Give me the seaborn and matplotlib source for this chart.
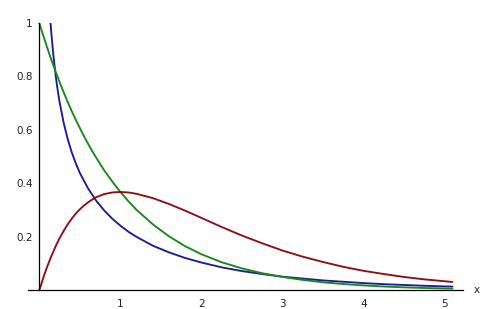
import numpy as np
import pandas as pd
import matplotlib
matplotlib.use("Agg")
import matplotlib.pyplot as plt
import seaborn as sns
from matplotlib.ticker import FixedLocator, MultipleLocator

# x grid shared by the green and red curves
x_gr = [0, 0.025, 0.05, 0.075, 0.1, 0.125, 0.15, 0.2, 0.25, 0.3, 0.35, 0.4,
        0.45, 0.5, 0.55, 0.6, 0.65, 0.7, 0.8, 0.9, 1.0, 1.1,
        1.2, 1.4, 1.6, 1.8, 2.0, 2.25, 2.5, 2.75, 3.0, 3.25, 3.5, 3.75,
        4.0, 4.25, 4.5, 4.75, 5.0, 5.1]
green = [1.0, 0.975, 0.951, 0.928, 0.905, 0.883, 0.861, 0.819, 0.779, 0.741,
         0.705, 0.670, 0.638, 0.607, 0.577, 0.549, 0.522, 0.497,
         0.449, 0.407, 0.368, 0.333, 0.301, 0.247, 0.202, 0.165, 0.135, 0.105,
         0.082, 0.064, 0.050, 0.039, 0.030, 0.0235, 0.0183, 0.0143, 0.0111,
         0.0087, 0.0067, 0.0061]
red = [0.0, 0.024, 0.048, 0.070, 0.091, 0.110, 0.129, 0.164, 0.195, 0.222,
       0.247, 0.268, 0.287, 0.303, 0.317, 0.329, 0.339, 0.348,
       0.360, 0.366, 0.368, 0.366, 0.361, 0.345, 0.323, 0.298, 0.271, 0.237,
       0.205, 0.176, 0.149, 0.126, 0.106, 0.088, 0.073, 0.061, 0.050, 0.041,
       0.034, 0.031]

# blue curve (enters from the top edge)
x_blue = [0.138, 0.15, 0.17, 0.2, 0.22, 0.25, 0.3, 0.35, 0.4, 0.45, 0.5, 0.6,
          0.7, 0.8, 0.9, 1.0, 1.1, 1.2, 1.4, 1.6, 1.8, 2.0, 2.25, 2.5, 2.75,
          3.0, 3.25, 3.5, 3.75, 4.0, 4.25, 4.5, 4.75, 5.0, 5.1]
blue = [1.0, 0.956, 0.889, 0.807, 0.762, 0.704, 0.627, 0.566, 0.516, 0.475,
        0.439, 0.382, 0.336, 0.299, 0.268, 0.242, 0.219, 0.200, 0.167, 0.142,
        0.121, 0.104, 0.086, 0.072, 0.061, 0.051, 0.044, 0.037, 0.032, 0.027,
        0.023, 0.020, 0.017, 0.0146, 0.0138]

x_ticks = [1, 2, 3, 4, 5]
x_ticklabels = ["1", "2", "3", "4", "5"]
y_ticks = [0.2, 0.4, 0.6, 0.8, 1.0]
y_ticklabels = ["0.2", "0.4", "0.6", "0.8", "1"]

sns.set_style("white")
plt.rcParams['font.family'] = ['DejaVu Sans']

fig = plt.figure(figsize=(5.0, 3.09), dpi=100)
ax = fig.add_axes([0.056, 0.0605, 0.87, 0.865])

df_blue = pd.DataFrame({"x": x_blue, "y": blue})
df_green = pd.DataFrame({"x": x_gr, "y": green})
df_red = pd.DataFrame({"x": x_gr, "y": red})

lw = 1.35
sns.lineplot(data=df_blue, x="x", y="y", ax=ax, color="#1c1c96", lw=lw,
             sort=False, estimator=None)
sns.lineplot(data=df_green, x="x", y="y", ax=ax, color="#17891a", lw=lw,
             sort=False, estimator=None)
sns.lineplot(data=df_red, x="x", y="y", ax=ax, color="#8e0e16", lw=lw,
             sort=False, estimator=None)

ax.set_xlim(-0.14, 5.23)
ax.set_ylim(0, 1)
ax.set_xlabel("")
ax.set_ylabel("")

for s in ["top", "right"]:
    ax.spines[s].set_visible(False)
ax.spines["left"].set_position(("data", 0))
ax.spines["bottom"].set_position(("data", 0))
for s in ["left", "bottom"]:
    ax.spines[s].set_color("black")
    ax.spines[s].set_linewidth(0.9)

ax.xaxis.set_major_locator(FixedLocator(x_ticks))
ax.set_xticklabels(x_ticklabels)
ax.xaxis.set_minor_locator(MultipleLocator(0.2))
ax.yaxis.set_major_locator(FixedLocator(y_ticks))
ax.set_yticklabels(y_ticklabels)
ax.yaxis.set_minor_locator(MultipleLocator(0.05))

ax.tick_params(which="both", direction="in", color="#333333", width=0.6)
ax.tick_params(which="major", length=3.5, labelsize=7.5, labelcolor="#222222")
ax.tick_params(which="minor", length=2)
ax.tick_params(axis="x", which="major", pad=6)
ax.tick_params(axis="y", which="major", pad=5)

ax.annotate("x", xy=(1, 0), xycoords="axes fraction", xytext=(10, 0),
            textcoords="offset points", ha="center", va="center",
            fontsize=7.5, color="#222222")

fig.savefig("out.png", dpi=100)
